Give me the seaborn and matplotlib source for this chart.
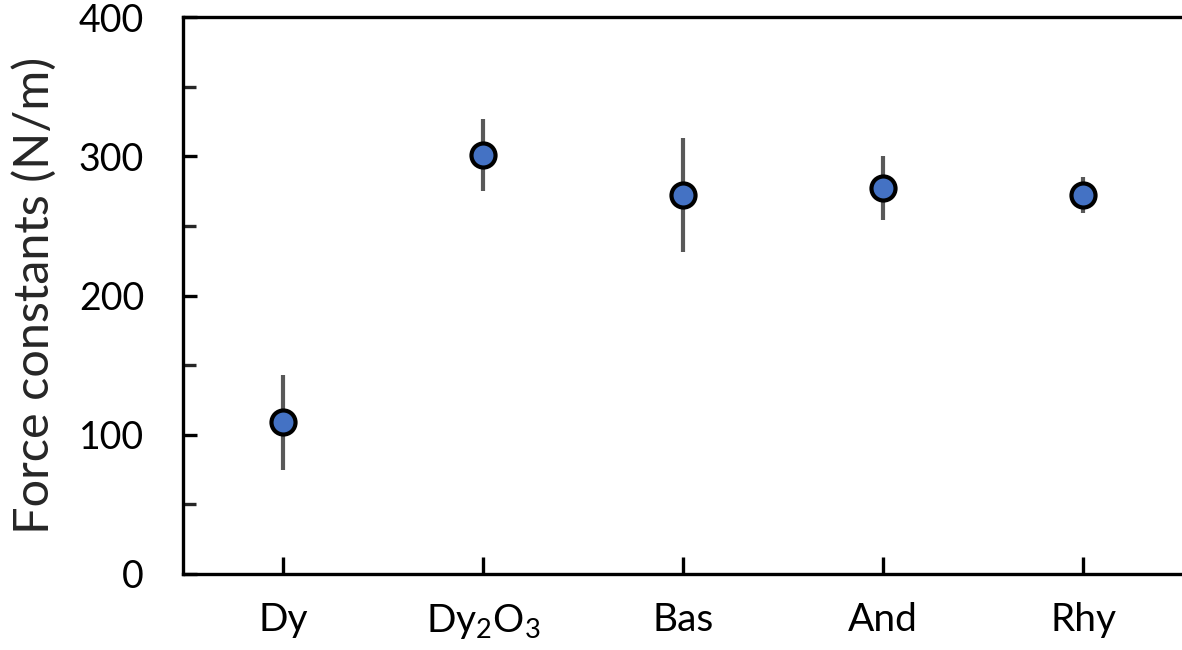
import matplotlib
matplotlib.use('Agg')
import matplotlib.pyplot as plt
import seaborn as sns
import pandas as pd
from matplotlib.ticker import MultipleLocator

# data
materials = ['Dy', 'Dy$_2$O$_3$', 'Bas', 'And', 'Rhy']
force = [109, 301, 272, 277, 272]
force_err = [34, 26, 41, 23, 13]

df = pd.DataFrame({'material': materials, 'force': force, 'err': force_err})

sns.set_theme(style='white')
plt.rcParams['font.family'] = ['Lato', 'DejaVu Sans']
plt.rcParams['mathtext.default'] = 'regular'

fig = plt.figure(figsize=(11.82, 6.5), dpi=100)
ax = fig.add_axes([183 / 1182, 1 - 574 / 650, 1000 / 1182, (574 - 17) / 650])

# error bars first, then markers on top
ax.errorbar(df['material'], df['force'], yerr=df['err'], fmt='none',
            ecolor='#595959', elinewidth=3, capsize=0, zorder=2)
sns.scatterplot(data=df, x='material', y='force', ax=ax, s=300,
                color='#4472C4', edgecolor='black', linewidth=3, zorder=3)

ax.set_xlim(-0.5, 4.5)
ax.set_ylim(0, 400)
ax.yaxis.set_major_locator(MultipleLocator(100))
ax.yaxis.set_minor_locator(MultipleLocator(50))

ax.set_xlabel('')
ax.set_ylabel('Force constants (N/m)', fontsize=35, labelpad=16)

for side in ['left', 'bottom', 'top']:
    ax.spines[side].set_visible(True)
    ax.spines[side].set_color('black')
    ax.spines[side].set_linewidth(2.4)
ax.spines['right'].set_visible(False)

ax.tick_params(axis='y', which='major', direction='in', length=10, width=2.4,
               labelsize=27, pad=28, left=True, colors='black')
ax.tick_params(axis='y', which='minor', direction='in', length=9, width=2.4, left=True)
ax.tick_params(axis='x', which='major', direction='in', length=12, width=2.4,
               labelsize=28, pad=20, bottom=True, colors='black')

fig.savefig('out.png', dpi=100)
